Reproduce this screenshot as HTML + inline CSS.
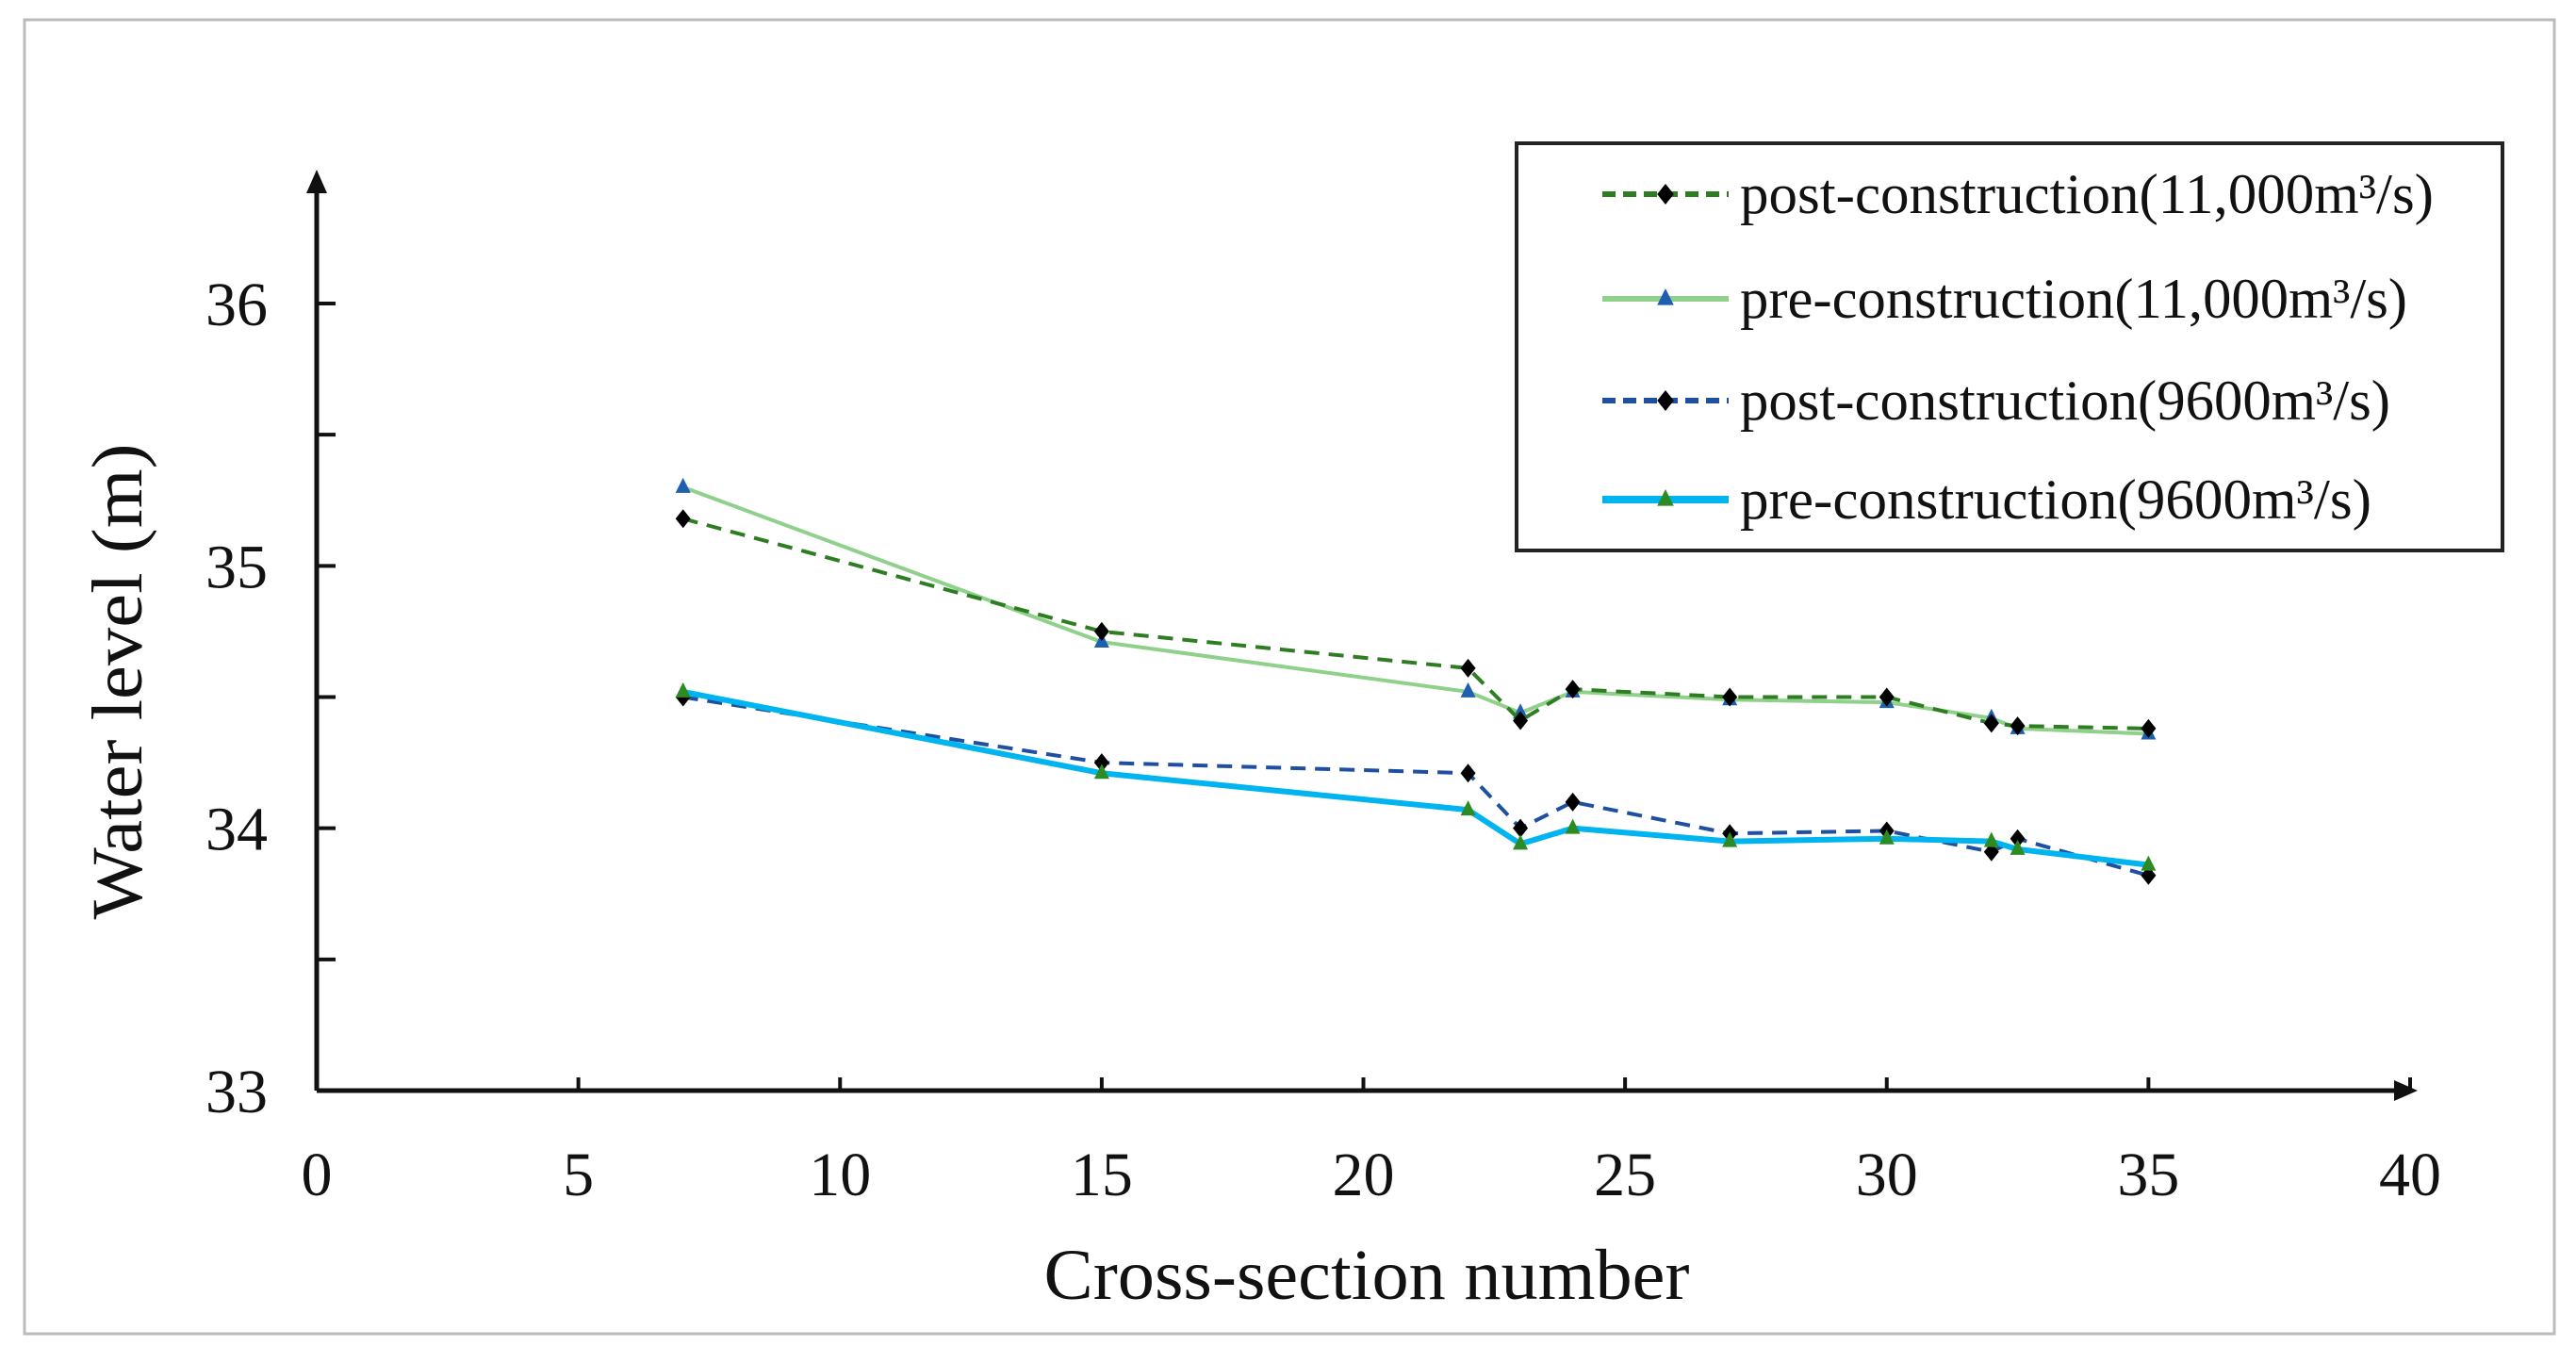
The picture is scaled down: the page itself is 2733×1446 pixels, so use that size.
<!DOCTYPE html>
<html><head><meta charset="utf-8"><style>
html,body{margin:0;padding:0;background:#fff;}
svg{display:block;font-family:"Liberation Serif",serif;}
</style></head><body>
<svg id="chart" width="2733" height="1446" viewBox="0 0 2733 1446">
<rect x="26" y="21" width="2684" height="1394" fill="#fff" stroke="#bbb" stroke-width="3"/>
<g id="axes"></g>
<g id="series"></g>
<g id="legend">
<rect x="1609" y="152" width="1046" height="432" fill="#fff" stroke="#222" stroke-width="4"/>
</g>
<text x="1450" y="1378" font-size="76" text-anchor="middle" fill="#111" textLength="685" lengthAdjust="spacingAndGlyphs">Cross-section number</text>
<text x="0" y="0" font-size="76" text-anchor="middle" fill="#111" textLength="505" lengthAdjust="spacingAndGlyphs" transform="translate(150,723) rotate(-90)">Water level (m)</text>
</svg>
<script>
const xs = [7, 15, 22, 23, 24, 27, 30, 32, 32.5, 35];
const post11000 = [35.18, 34.75, 34.61, 34.41, 34.53, 34.50, 34.50, 34.40, 34.39, 34.38];
const pre11000 = [35.30, 34.71, 34.52, 34.44, 34.52, 34.49, 34.48, 34.42, 34.38, 34.36];
const post9600 = [34.50, 34.25, 34.21, 34.00, 34.10, 33.98, 33.99, 33.91, 33.96, 33.82];
const pre9600 = [34.52, 34.21, 34.07, 33.94, 34.00, 33.95, 33.96, 33.95, 33.92, 33.86];
const xTicks = [0, 5, 10, 15, 20, 25, 30, 35, 40];
const yTicks = [33, 34, 35, 36];
const yMinorTicks = [33.5, 34.5, 35.5];
const legendLabels = ["post-construction(11,000m³/s)", "pre-construction(11,000m³/s)", "post-construction(9600m³/s)", "pre-construction(9600m³/s)"];

const NS = "http://www.w3.org/2000/svg";
const X = v => 336 + (v - 0) * (2557 - 336) / 40;
const Y = v => 1157 - (v - 33) * (1157 - 322) / 3;
function mk(tag, attrs, parent){const e=document.createElementNS(NS,tag);for(const k in attrs)e.setAttribute(k,attrs[k]);parent.appendChild(e);return e;}

const axes = document.getElementById('axes');
let e;
e = mk('line',{x1:X(0),y1:Y(33),x2:X(0),y2:195,stroke:'#111','stroke-width':5},axes);


e = mk('polygon',{points:`${X(0)-11},205 ${X(0)},180 ${X(0)+11},205`,fill:'#111'},axes);


e = mk('line',{x1:X(0),y1:Y(33),x2:2545,y2:Y(33),stroke:'#111','stroke-width':5},axes);


e = mk('polygon',{points:`2540,${Y(33)-11} 2565,${Y(33)} 2540,${Y(33)+11}`,fill:'#111'},axes);


yTicks.concat(yMinorTicks).forEach(v=>{
  const t = mk('line',{x1:X(0),y1:Y(v),x2:X(0)+20,y2:Y(v),stroke:'#111','stroke-width':4},axes);
  
  
});
yTicks.forEach(v=>{
  const t = mk('text',{x:284,y:Y(v)+23,'font-size':66,'text-anchor':'end',fill:'#111'},axes);
  t.textContent = v;
  
  
});
xTicks.forEach(v=>{
  if(v>0){
    const t = mk('line',{x1:X(v),y1:Y(33),x2:X(v),y2:Y(33)-14,stroke:'#111','stroke-width':4},axes);
    
    
  }
  const l = mk('text',{x:X(v),y:1268,'font-size':66,'text-anchor':'middle',fill:'#111'},axes);
  l.textContent = v;
  
  
});

const seriesDefs = [
  {vals:pre11000, color:'#8fd18a', dash:null, w:4, marker:'tri', mcolor:'#1f5fb0', name:'pre-construction-11000'},
  {vals:post11000, color:'#2e7d22', dash:'16,10', w:4, marker:'dia', mcolor:'#000', name:'post-construction-11000'},
  {vals:post9600, color:'#1f4fa0', dash:'16,10', w:4, marker:'dia', mcolor:'#000', name:'post-construction-9600'},
  {vals:pre9600, color:'#00b4f0', dash:null, w:6, marker:'tri', mcolor:'#2e8a22', name:'pre-construction-9600'}
];
const sg = document.getElementById('series');
function marker(g, type, cx, cy, color, s){
  let m;
  if(type==='dia') m = mk('polygon',{points:`${cx},${cy-s} ${cx+s*0.8},${cy} ${cx},${cy+s} ${cx-s*0.8},${cy}`,fill:color},g);
  else m = mk('polygon',{points:`${cx},${cy-s} ${cx+s*0.8},${cy+s*0.6} ${cx-s*0.8},${cy+s*0.6}`,fill:color},g);
  return m;
}
seriesDefs.forEach(sd=>{
  const pts = xs.map((x,i)=>X(x)+','+Y(sd.vals[i])).join(' ');
  const a = {points:pts,fill:'none',stroke:sd.color,'stroke-width':sd.w};
  if(sd.dash) a['stroke-dasharray']=sd.dash;
  const pl = mk('polyline',a,sg);
  
  
  xs.forEach((x,i)=>{
    const m = marker(sg, sd.marker, X(x), Y(sd.vals[i]), sd.mcolor, 10);
    
    
  });
});

const lg = document.getElementById('legend');
const legendOrder = [1,0,2,3];
const rowY = [206, 317, 425, 530];
const textLens = [736, 708, 690, 670];
legendOrder.forEach((si,i)=>{
  const sd = seriesDefs[si];
  const a = {x1:1700,y1:rowY[i],x2:1834,y2:rowY[i],stroke:sd.color,'stroke-width':sd.w+2};
  if(sd.dash) a['stroke-dasharray']='14,8';
  const l = mk('line',a,lg);
  
  
  const m = marker(lg, sd.marker, 1767, rowY[i], sd.mcolor, 11);
  
  
  const t = mk('text',{x:1846,y:rowY[i]+20,'font-size':60,fill:'#111',textLength:textLens[i],lengthAdjust:'spacingAndGlyphs'},lg);
  t.textContent = legendLabels[i];
  
  
});
</script>
</body></html>
